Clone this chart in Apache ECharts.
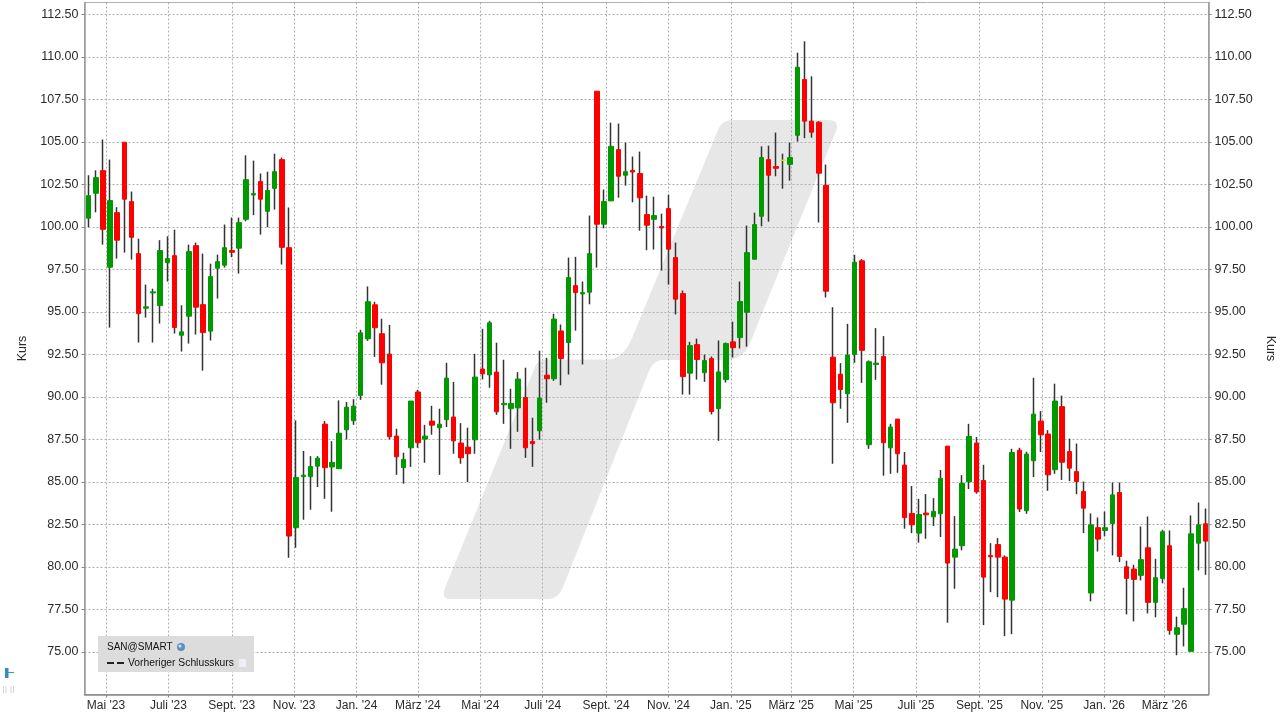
<!DOCTYPE html>
<html><head><meta charset="utf-8">
<style>html,body{margin:0;padding:0;background:#fff}#c{width:1281px;height:718px}</style>
<script src="https://cdn.jsdelivr.net/npm/echarts@6/dist/echarts.min.js"></script></head>
<body><div id="c"></div><script>
const dates=['2023-04-14','2023-04-21','2023-04-28','2023-05-05','2023-05-12','2023-05-19','2023-05-26','2023-06-02','2023-06-09','2023-06-16','2023-06-23','2023-06-30','2023-07-07','2023-07-14','2023-07-21','2023-07-28','2023-08-04','2023-08-11','2023-08-18','2023-08-25','2023-09-01','2023-09-08','2023-09-15','2023-09-22','2023-09-29','2023-10-06','2023-10-13','2023-10-20','2023-10-27','2023-11-03','2023-11-10','2023-11-17','2023-11-24','2023-12-01','2023-12-08','2023-12-15','2023-12-22','2023-12-29',
'2024-01-05','2024-01-12','2024-01-19','2024-01-26','2024-02-02','2024-02-09','2024-02-16','2024-02-23','2024-03-01','2024-03-08','2024-03-15','2024-03-22','2024-03-29','2024-04-05','2024-04-12','2024-04-19','2024-04-26','2024-05-03','2024-05-10','2024-05-17','2024-05-24','2024-05-31','2024-06-07','2024-06-14','2024-06-21','2024-06-28','2024-07-05','2024-07-12','2024-07-19','2024-07-26','2024-08-02','2024-08-09','2024-08-16','2024-08-23','2024-08-30','2024-09-06','2024-09-13','2024-09-20','2024-09-27','2024-10-04','2024-10-11','2024-10-18','2024-10-25','2024-11-01','2024-11-08','2024-11-15','2024-11-22','2024-11-29','2024-12-06','2024-12-13','2024-12-20','2024-12-27',
'2025-01-03','2025-01-10','2025-01-17','2025-01-24','2025-01-31','2025-02-07','2025-02-14','2025-02-21','2025-02-28','2025-03-07','2025-03-14','2025-03-21','2025-03-28','2025-04-04','2025-04-11','2025-04-18','2025-04-25','2025-05-02','2025-05-09','2025-05-16','2025-05-23','2025-05-30','2025-06-06','2025-06-13','2025-06-20','2025-06-27','2025-07-04','2025-07-11','2025-07-18','2025-07-25','2025-08-01','2025-08-08','2025-08-15','2025-08-22','2025-08-29','2025-09-05','2025-09-12','2025-09-19','2025-09-26','2025-10-03','2025-10-10','2025-10-17','2025-10-24','2025-10-31','2025-11-07','2025-11-14','2025-11-21','2025-11-28','2025-12-05','2025-12-12','2025-12-19','2025-12-26',
'2026-01-02','2026-01-09','2026-01-16','2026-01-23','2026-01-30','2026-02-06','2026-02-13','2026-02-20','2026-02-27','2026-03-06','2026-03-13','2026-03-20','2026-03-27','2026-04-03','2026-04-10'];
const opens=[100.51,101.98,103.31,97.63,100.84,104.98,101.49,98.43,95.22,96.12,
95.37,97.90,98.31,93.63,94.75,98.90,95.43,93.87,97.57,97.75,
98.61,98.75,100.45,101.88,102.67,100.92,102.27,103.96,98.78,82.31,
85.31,85.31,85.93,88.40,85.88,85.78,88.07,88.60,90.09,93.42,
95.42,93.72,92.52,87.70,85.84,87.01,90.29,87.52,88.58,88.19,
88.66,88.82,87.29,87.05,87.48,91.64,91.30,91.46,89.54,89.31,
89.36,89.97,87.38,88.01,91.28,91.07,93.88,93.20,96.55,96.06,
96.16,107.98,100.16,101.53,104.55,103.04,103.33,103.14,100.73,100.45,
100.02,101.08,98.20,96.08,91.40,93.08,91.43,92.26,89.32,91.02,
93.24,93.49,94.98,98.10,100.63,103.96,103.55,103.92,103.68,105.39,
108.67,106.22,106.16,102.45,92.34,91.34,90.19,92.50,98.01,87.19,
91.91,92.38,87.01,88.70,85.99,83.15,81.99,83.17,82.95,83.13,
87.11,80.58,81.25,85.01,87.29,85.09,80.68,81.32,80.58,78.05,
86.87,83.31,86.25,88.58,87.82,85.72,89.43,86.79,85.61,84.44,
78.47,82.31,82.15,82.56,84.38,80.01,79.88,79.51,81.13,77.92,
79.33,81.25,76.04,76.63,75.04,81.40,82.54];
const closes=[101.84,102.90,99.86,101.55,99.22,101.63,99.39,94.90,95.30,96.18,
98.61,98.14,94.08,93.83,98.55,95.28,93.79,97.08,97.96,98.78,
98.51,100.25,102.78,101.96,101.63,102.14,103.25,98.80,81.82,85.27,
85.40,85.91,86.40,85.84,86.15,87.87,89.40,89.46,93.77,95.60,
94.07,92.01,87.66,86.48,86.33,89.76,87.31,87.70,88.34,88.40,
91.11,87.42,86.42,86.66,91.17,91.36,94.36,89.13,89.62,89.62,
91.05,87.01,87.25,89.93,91.07,94.58,92.26,97.02,96.14,96.14,
98.43,100.16,101.49,104.74,102.98,103.25,103.23,101.71,100.10,100.67,
99.94,98.69,95.75,91.20,93.02,92.20,92.14,89.14,91.47,93.14,
92.90,95.61,98.49,100.14,104.08,103.04,103.45,103.92,104.08,109.39,
106.22,105.57,103.16,96.22,89.66,90.44,92.46,97.93,92.74,92.07,
91.99,87.31,88.23,86.66,82.90,82.48,83.09,83.07,83.27,85.21,
80.23,81.05,84.93,87.68,84.42,79.40,80.60,80.58,78.11,86.73,
83.41,86.64,88.99,87.78,85.42,89.76,86.16,85.81,85.03,83.46,
82.48,81.64,82.31,84.24,80.62,79.33,79.27,80.43,77.92,79.37,
82.07,76.27,76.43,77.55,81.95,82.48,81.52];
const highs=[103.04,103.33,105.14,103.96,101.16,104.98,102.08,99.31,96.61,96.37,
99.22,99.45,99.84,95.39,98.96,99.08,98.43,97.84,98.37,100.14,
100.55,100.55,104.21,103.90,103.14,103.25,104.31,104.08,101.14,88.62,
86.82,86.52,86.52,88.58,87.40,89.80,89.70,89.87,93.95,96.50,
95.60,94.60,94.24,88.13,86.72,89.76,90.42,88.36,89.48,89.31,
92.01,90.89,88.46,88.19,92.54,94.01,94.48,93.19,92.19,90.48,
91.46,91.72,88.78,92.72,92.30,94.89,94.26,98.20,98.24,96.79,
100.67,107.98,102.20,106.13,106.08,104.96,104.14,104.43,101.84,101.78,
100.78,101.90,99.08,96.26,93.24,93.43,92.49,92.38,93.32,93.20,
94.43,96.79,100.08,100.84,104.74,104.78,105.55,104.31,104.96,110.25,
110.92,108.86,106.22,103.67,95.28,91.99,94.30,98.36,98.11,92.15,
94.05,93.58,88.42,88.70,86.76,84.76,84.01,84.29,84.05,85.70,
87.11,82.99,85.40,88.42,87.64,86.01,81.40,81.70,80.68,86.95,
87.01,86.78,91.13,89.17,88.05,90.78,90.08,87.55,87.26,85.03,
83.15,82.91,83.26,84.97,84.97,80.37,80.13,82.38,82.97,80.48,
82.19,82.15,77.08,78.78,83.03,83.79,83.44];
const lows=[99.98,100.86,98.96,94.08,98.14,98.49,98.08,93.20,94.67,93.20,
94.32,96.79,93.73,92.67,93.14,93.67,91.55,93.32,95.79,97.61,
98.22,97.26,100.33,100.69,99.55,99.98,101.02,97.79,80.54,81.13,
82.78,83.37,84.70,84.01,83.25,85.78,87.50,88.36,89.83,93.30,
92.36,90.72,87.50,85.42,84.90,85.89,87.01,86.13,87.78,85.42,
88.23,86.66,86.07,84.99,86.66,91.03,90.54,88.95,88.42,86.95,
87.95,86.42,85.89,87.48,89.66,90.95,90.69,91.32,93.90,91.91,
95.45,97.61,99.92,101.53,101.72,102.43,101.45,99.78,98.63,98.67,
97.43,96.61,94.85,90.14,90.14,91.02,90.89,88.97,87.42,90.85,
92.32,92.85,92.96,98.10,100.04,100.31,102.98,102.25,102.72,105.02,
105.22,105.25,100.26,95.85,86.07,89.31,88.48,92.01,90.83,86.95,
91.01,85.37,85.48,85.54,82.25,81.99,81.43,81.66,82.41,81.76,
76.72,78.72,80.98,84.58,84.31,76.58,78.52,78.23,75.93,76.05,
83.23,83.13,85.29,86.76,84.48,85.48,85.12,85.05,84.28,81.99,
77.98,80.91,81.80,80.68,80.29,77.21,76.80,79.21,77.27,77.04,
79.04,76.02,74.81,75.33,75.04,79.80,79.54];
const xTickDates=['2023-05-01','2023-07-01','2023-09-01','2023-11-01','2024-01-01','2024-03-01','2024-05-01','2024-07-01','2024-09-01','2024-11-01','2025-01-01','2025-03-01','2025-05-01','2025-07-01','2025-09-01','2025-11-01','2026-01-01','2026-03-01'];
const xTickLabels=["Mai '23","Juli '23","Sept. '23","Nov. '23","Jan. '24","März '24","Mai '24","Juli '24","Sept. '24","Nov. '24","Jan. '25","März '25","Mai '25","Juli '25","Sept. '25","Nov. '25","Jan. '26","März '26"];
const yTicks=[75,77.5,80,82.5,85,87.5,90,92.5,95,97.5,100,102.5,105,107.5,110,112.5];

const FONT='"Liberation Sans",Arial,sans-serif', TXT='#2a2a2a', GRID='#b0b0b0';
const toT=s=>new Date(s+'T00:00:00').getTime();
const xTickTimes=xTickDates.map(toT);
const wickRows=dates.map((d,i)=>[toT(d),opens[i],closes[i],lows[i],highs[i]]);
const boxRows=dates.map((d,i)=>[toT(d),opens[i],closes[i],Math.min(opens[i],closes[i]),Math.max(opens[i],closes[i])]);
// watermark outline: straight corners plus [cx,cy,x,y] rounded corners
const wmOutline=[[450,599],[441,599,445,588],[535,367],[538,359.5,547,359.5],[607,359.5],[623,359.5,632,338],[718,130],[722,120,732,120],[828,120],[840,120,836,131],[750,343],[743,360,725,360],[663,360],[652,360,647,376],[563,587],[558,599,548,599]];
const wmPoints=[];
wmOutline.forEach(s=>{
  if(s.length===2){wmPoints.push(s);return;}
  const p=wmPoints[wmPoints.length-1];
  for(let k=1;k<=8;k++){const t=k/8,u=1-t;wmPoints.push([u*u*p[0]+2*u*t*s[0]+t*t*s[2],u*u*p[1]+2*u*t*s[1]+t*t*s[3]]);}
});
const yLabel={fontFamily:FONT,fontSize:12.5,color:TXT,margin:6,padding:[2,0,0,0],customValues:yTicks,formatter:v=>v.toFixed(2)};
const split={show:true,lineStyle:{color:GRID,type:[2,2],width:1}};
const mkY=(pos,rot,gap)=>({type:'value',position:pos,min:72.5,max:113.2,scale:true,
  name:'Kurs',nameLocation:'middle',nameGap:gap,nameRotate:rot,nameTextStyle:{fontFamily:FONT,fontSize:12.5,color:TXT},
  axisLine:{show:true,lineStyle:{color:'#999999',width:1.5}},
  axisTick:{show:true,length:3,inside:false,customValues:yTicks,lineStyle:{color:'#888888'}},
  axisLabel:yLabel,splitLine:pos==='left'?split:{show:false}});
const chart=echarts.init(document.getElementById('c'),null,{renderer:'canvas'});
chart.setOption({
  animation:false,backgroundColor:'#ffffff',
  grid:{left:84.5,right:72.5,top:2.5,bottom:23.5,show:true,borderColor:'#b0b0b0',borderWidth:1,containLabel:false,outerBoundsMode:'none'},
  xAxis:{type:'value',min:toT('2023-04-10'),max:toT('2026-04-13'),scale:true,
    axisLine:{show:true,lineStyle:{color:'#888888',width:1.5}},
    axisTick:{show:true,length:3,customValues:xTickTimes,lineStyle:{color:'#888888'}},
    axisLabel:{fontFamily:FONT,fontSize:12,color:TXT,margin:5,hideOverlap:false,customValues:xTickTimes,
      formatter:v=>xTickLabels[xTickTimes.indexOf(v)]||''},
    splitLine:split},
  yAxis:[mkY('left',90,40),mkY('right',-90,39.5)],
  series:[
    {type:'candlestick',name:'wick',data:wickRows,barWidth:1,z:3,
     itemStyle:{color:'#333333',color0:'#333333',borderColor:'#333333',borderColor0:'#333333',borderColorDoji:'#333333',borderWidth:1.5}},
    {type:'candlestick',name:'body',data:boxRows,barWidth:5,z:4,
     itemStyle:{color:'#009900',color0:'#ff0000',borderColor:'#009900',borderColor0:'#ff0000',borderColorDoji:'#e8e800',borderWidth:1}}
  ],
  graphic:[
    {type:'polygon',z:-10,silent:true,shape:{points:wmPoints},style:{fill:'#e7e7e7'}},
    {type:'rect',z:100,shape:{x:98,y:636,width:156,height:36},style:{fill:'#dcdcdc'}},
    {type:'text',z:101,style:{x:107,y:647,text:'SAN@SMART',font:'10px '+FONT,fill:'#111111',textVerticalAlign:'middle'}},
    {type:'circle',z:101,shape:{cx:181,cy:647,r:4},style:{fill:'#5b8fc0'}},
    {type:'circle',z:102,shape:{cx:180,cy:646,r:1.6},style:{fill:'#cfe0ee'}},
    {type:'line',z:101,shape:{x1:107,y1:663,x2:114,y2:663},style:{stroke:'#222222',lineWidth:2}},
    {type:'line',z:101,shape:{x1:117,y1:663,x2:124,y2:663},style:{stroke:'#222222',lineWidth:2}},
    {type:'text',z:101,style:{x:128,y:663.5,text:'Vorheriger Schlusskurs',font:'10.3px '+FONT,fill:'#111111',textVerticalAlign:'middle'}},
    {type:'rect',z:101,shape:{x:239,y:659,width:7,height:8},style:{fill:'#eef0f8'}},
    {type:'rect',z:101,shape:{x:5,y:668,width:3.5,height:10},style:{fill:'#3d85c6'}},
    {type:'line',z:101,shape:{x1:8,y1:672.5,x2:14,y2:672.5},style:{stroke:'#22bb66',lineWidth:1}},
    {type:'line',z:101,shape:{x1:3.5,y1:686,x2:3.5,y2:693},style:{stroke:'#d4d4d4',lineWidth:1}},
    {type:'line',z:101,shape:{x1:6,y1:686,x2:6,y2:693},style:{stroke:'#d4d4d4',lineWidth:1}},
    {type:'line',z:101,shape:{x1:11,y1:686,x2:11,y2:693},style:{stroke:'#d4d4d4',lineWidth:1}},
    {type:'line',z:101,shape:{x1:13.5,y1:686,x2:13.5,y2:693},style:{stroke:'#d4d4d4',lineWidth:1}}
  ]
});
</script></body></html>
